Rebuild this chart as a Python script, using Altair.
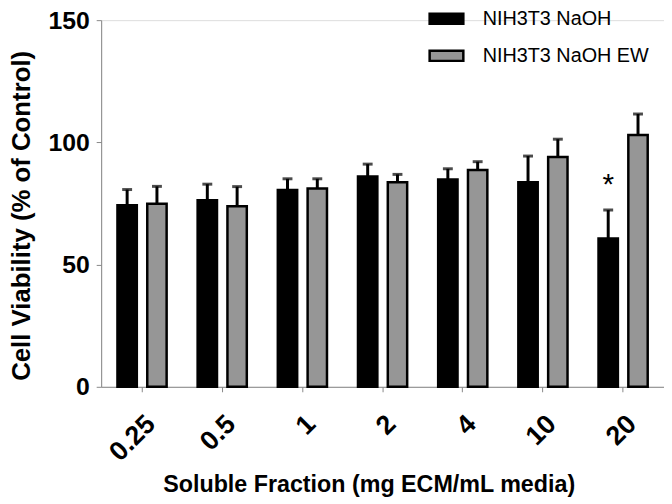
import altair as alt
import pandas as pd

categories = ["0.25", "0.5", "1", "2", "4", "10", "20"]
series = ["NIH3T3 NaOH", "NIH3T3 NaOH EW"]
naoh_mean = [74.3, 76.3, 80.5, 86.0, 84.8, 83.7, 60.7]
naoh_err = [6.4, 6.6, 4.6, 5.1, 4.4, 10.7, 11.6]
ew_mean = [74.9, 73.9, 81.1, 83.7, 88.7, 94.0, 103.0]
ew_err = [7.1, 8.0, 4.0, 3.2, 3.4, 7.3, 8.6]
star_category = ["20"]
star_series = ["NIH3T3 NaOH"]
star_y = [79.0]

rows = []
for i, c in enumerate(categories):
    rows.append({"cat": c, "series": series[0], "mean": naoh_mean[i], "upper": naoh_mean[i] + naoh_err[i]})
    rows.append({"cat": c, "series": series[1], "mean": ew_mean[i], "upper": ew_mean[i] + ew_err[i]})
df = pd.DataFrame(rows)
star_df = pd.DataFrame({"cat": star_category, "series": star_series, "y": star_y, "t": ["*"]})

FONT = "Liberation Sans"

x_enc = alt.X(
    "cat:N",
    sort=categories,
    scale=alt.Scale(paddingInner=0, paddingOuter=0.01, align=0.5),
    axis=alt.Axis(
        title="Soluble Fraction (mg ECM/mL media)",
        labelAngle=-45,
        labelAlign="right",
        labelBaseline="top",
        labelFontSize=27,
        labelFontWeight="bold",
        labelPadding=19,
        titleFontSize=23.5,
        titleFontWeight="bold",
        titlePadding=7,
        titleX=270,
        titleAlign="center",
    ),
)
xo_enc = alt.XOffset("series:N", sort=series, scale=alt.Scale(paddingInner=0.35, paddingOuter=0.52))
y_scale = alt.Scale(domain=[0, 150], nice=False)

bars = alt.Chart(df).mark_bar(stroke="black", strokeWidth=2.5).encode(
    x=x_enc,
    xOffset=xo_enc,
    y=alt.Y(
        "mean:Q",
        scale=y_scale,
        axis=alt.Axis(
            title="Cell Viability (% of Control)",
            values=[0, 50, 100, 150],
            labelFontSize=25,
            labelFontWeight="bold",
            labelPadding=7,
            titleFontSize=26,
            titleFontWeight="bold",
            titlePadding=14,
            titleY=197,
            grid=False,
        ),
    ),
    color=alt.Color(
        "series:N",
        sort=series,
        scale=alt.Scale(domain=series, range=["#000000", "#969696"]),
        legend=alt.Legend(
            title=None,
            orient="none",
            legendX=330,
            legendY=-20,
            symbolType="M-1,-0.3H1V0.3H-1Z",
            symbolSize=1156,
            symbolStrokeColor="black",
            symbolStrokeWidth=2.5,
            labelFontSize=20,
            labelFont=FONT,
            labelColor="black",
            labelLimit=400,
            labelOffset=18,
            rowPadding=8.5,
            padding=0,
        ),
    ),
)

rules = alt.Chart(df).mark_rule(color="black", strokeWidth=3).encode(
    x=alt.X("cat:N", sort=categories),
    xOffset=alt.XOffset("series:N", sort=series),
    y=alt.Y("mean:Q"),
    y2="upper:Q",
)

caps = alt.Chart(df).mark_tick(color="black", thickness=3, size=10, orient="horizontal").encode(
    x=alt.X("cat:N", sort=categories),
    xOffset=alt.XOffset("series:N", sort=series),
    y=alt.Y("upper:Q"),
)

star = alt.Chart(star_df).mark_text(fontSize=30, font=FONT, baseline="alphabetic", color="black").encode(
    x=alt.X("cat:N", sort=categories),
    xOffset=alt.XOffset("series:N", sort=series),
    y=alt.Y("y:Q"),
    text="t:N",
)

chart = (
    alt.layer(bars, rules, caps, star)
    .properties(
        width=568,
        height=370,
        autosize=alt.AutoSizeParams(type="none"),
        padding={"left": 94, "top": 10, "right": 0, "bottom": 116},
    )
    .configure_view(stroke=None)
    .configure_axis(
        domainColor="black",
        domainWidth=3,
        tickColor="black",
        tickWidth=3,
        tickSize=8,
        labelColor="black",
        titleColor="black",
        labelFont=FONT,
        titleFont=FONT,
    )
    .configure(background="white")
)

chart.save("out.html", embed_options={"renderer": "svg", "actions": False})
